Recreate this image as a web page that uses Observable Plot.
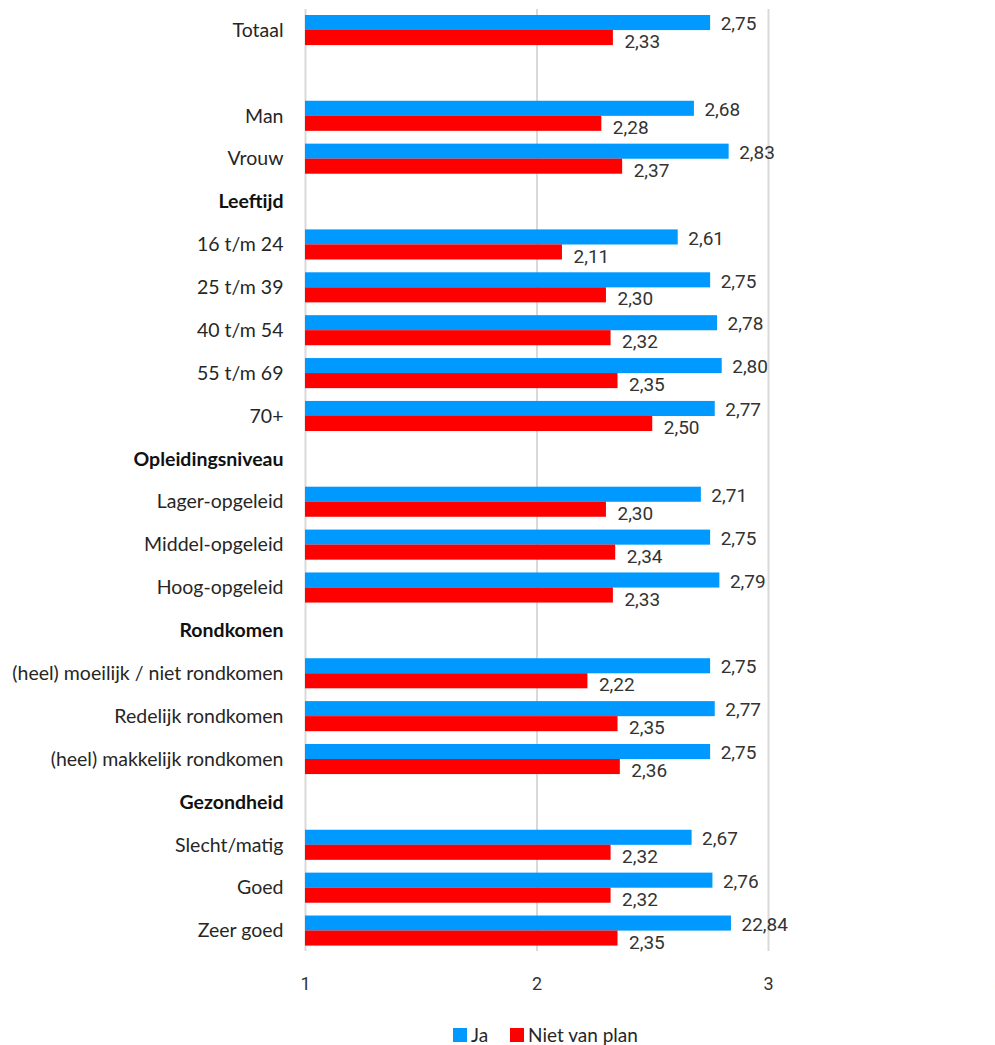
<!DOCTYPE html>
<html>
<head>
<meta charset="utf-8">
<script src="https://cdn.jsdelivr.net/npm/d3@7"></script>
<script src="https://cdn.jsdelivr.net/npm/@observablehq/plot@0.6"></script>
<style>
  html, body { margin: 0; padding: 0; background: #fff; overflow: hidden; }
  #wrap { position: relative; width: 995px; height: 1045px; }
  #chart svg { display: block; }
  #legend { position: absolute; top: 1025px; left: 453px; display: flex; align-items: center;
            font-family: Lato, sans-serif; font-size: 19px; line-height: 20px; color: #262626; }
  #legend .sw { width: 14px; height: 14px; display: inline-block; margin-right: 4px; }
  #legend .item { display: flex; align-items: center; margin-right: 22px; }
</style>
</head>
<body>
<div id="wrap">
  <div id="chart"></div>
  <div id="legend"></div>
</div>
<script>
// Rows (top to bottom); " " = empty spacer row
const rows = [
  "Totaal", " ", "Man", "Vrouw",
  "Leeftijd", "16 t/m 24", "25 t/m 39", "40 t/m 54", "55 t/m 69", "70+",
  "Opleidingsniveau", "Lager-opgeleid", "Middel-opgeleid", "Hoog-opgeleid",
  "Rondkomen", "(heel) moeilijk / niet rondkomen", "Redelijk rondkomen", "(heel) makkelijk rondkomen",
  "Gezondheid", "Slecht/matig", "Goed", "Zeer goed"
];
const headers = ["Leeftijd", "Opleidingsniveau", "Rondkomen", "Gezondheid"];

const categories = [
  "Totaal", "Man", "Vrouw",
  "16 t/m 24", "25 t/m 39", "40 t/m 54", "55 t/m 69", "70+",
  "Lager-opgeleid", "Middel-opgeleid", "Hoog-opgeleid",
  "(heel) moeilijk / niet rondkomen", "Redelijk rondkomen", "(heel) makkelijk rondkomen",
  "Slecht/matig", "Goed", "Zeer goed"
];
const jaValues = [2.75, 2.68, 2.83, 2.61, 2.75, 2.78, 2.80, 2.77, 2.71, 2.75, 2.79, 2.75, 2.77, 2.75, 2.67, 2.76, 2.84];
const jaLabels = ["2,75", "2,68", "2,83", "2,61", "2,75", "2,78", "2,80", "2,77", "2,71", "2,75", "2,79", "2,75", "2,77", "2,75", "2,67", "2,76", "22,84"];
const nietValues = [2.33, 2.28, 2.37, 2.11, 2.30, 2.32, 2.35, 2.50, 2.30, 2.34, 2.33, 2.22, 2.35, 2.36, 2.32, 2.32, 2.35];
const nietLabels = ["2,33", "2,28", "2,37", "2,11", "2,30", "2,32", "2,35", "2,50", "2,30", "2,34", "2,33", "2,22", "2,35", "2,36", "2,32", "2,32", "2,35"];
const xTicks = [1, 2, 3, 4];
const seriesNames = ["Ja", "Niet van plan"];
const seriesColors = ["#0099ff", "#ff0000"];

const ja = categories.map((c, i) => ({cat: c, value: jaValues[i], label: jaLabels[i]}));
const niet = categories.map((c, i) => ({cat: c, value: nietValues[i], label: nietLabels[i]}));
const rowLabels = rows.filter(r => r.trim() !== "" && !headers.includes(r));

const labelFont = "Lato, sans-serif";
const numFont = "Roboto, sans-serif";

const chart = Plot.plot({
  width: 995,
  height: 1005,
  marginTop: 9,
  marginBottom: 54,
  marginLeft: 305,
  marginRight: 0,
  x: {domain: [1, 4], range: [305, 999.5]},
  y: {domain: rows, range: [8.6, 952], padding: 0, round: false, axis: null},
  style: {fontFamily: numFont, background: "#fff", overflow: "visible"},
  marks: [
    Plot.ruleX(xTicks, {stroke: "#d9d9d9", strokeWidth: 2}),
    Plot.axisX({ticks: xTicks, tickSize: 0, tickPadding: 26, label: null, fontSize: 18,
                fontFamily: numFont, fill: "#333", tickFormat: d => String(d)}),
    Plot.barX(ja, {x1: 1, x2: "value", y: "cat", fill: seriesColors[0], insetTop: 6.4, insetBottom: 21.4}),
    Plot.barX(niet, {x1: 1, x2: "value", y: "cat", fill: seriesColors[1], insetTop: 21.4, insetBottom: 6.4}),
    Plot.text(ja, {x: "value", y: "cat", text: "label", dx: 10, dy: -6.4, textAnchor: "start",
                   fontSize: 19, fontFamily: numFont, fill: "#333"}),
    Plot.text(niet, {x: "value", y: "cat", text: "label", dx: 11, dy: 11.5, textAnchor: "start",
                     fontSize: 19, fontFamily: numFont, fill: "#333"}),
    Plot.text(rowLabels, {x: 1, y: d => d, text: d => d, dx: -22, textAnchor: "end",
                          fontSize: 19.5, fontFamily: labelFont, fill: "#262626"}),
    Plot.text(headers, {x: 1, y: d => d, text: d => d, dx: -22, textAnchor: "end",
                        fontSize: 19.5, fontWeight: "bold", fontFamily: labelFont, fill: "#111"})
  ]
});
document.getElementById("chart").appendChild(chart);

const legend = document.getElementById("legend");
seriesNames.forEach((name, i) => {
  const item = document.createElement("span");
  item.className = "item";
  const sw = document.createElement("span");
  sw.className = "sw";
  sw.style.background = seriesColors[i];
  item.appendChild(sw);
  item.appendChild(document.createTextNode(name));
  legend.appendChild(item);
});
</script>
</body>
</html>
